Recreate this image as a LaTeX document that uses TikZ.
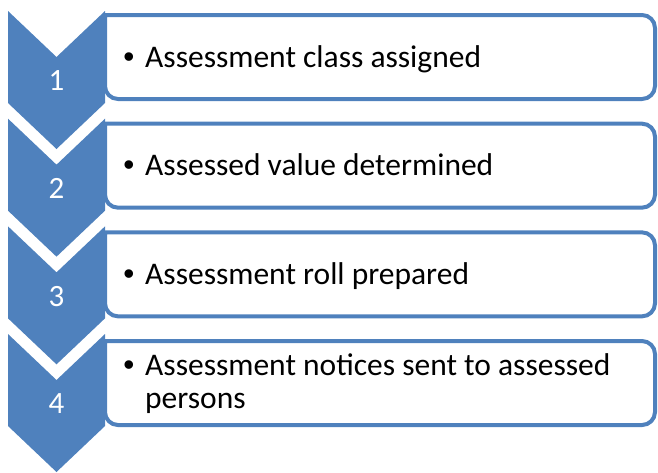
\documentclass[tikz,border=0pt]{standalone}
\usepackage{fontspec}
\setmainfont{Carlito}
\newfontfamily\bulfont{Liberation Sans}
\definecolor{acc}{HTML}{4F81BD}
\begin{document}
\begin{tikzpicture}[x=1pt,y=-1pt,
  chev/.style={fill=acc,draw=none},
  box/.style={draw=acc,line width=4pt},
  num/.style={text=white,font=\fontsize{31}{34}\selectfont,inner sep=0pt},
  itemtext/.style={font=\fontsize{31.5}{33}\selectfont,inner sep=0pt,anchor=base west,align=left},
  bul/.style={font=\bulfont\fontsize{31.5}{33}\selectfont,inner sep=0pt,anchor=base}]
\useasboundingbox (0,0) rectangle (658,472);
\foreach \k in {0,1,2,3}{
  \pgfmathsetmacro{\r}{15+108.67*\k}
  \pgfmathsetmacro{\rb}{\r+84}
  \draw[box] (105,\r) [rounded corners=13pt] -- (655,\r) -- (655,\rb) -- (105,\rb) [sharp corners] -- cycle;
  \pgfmathsetmacro{\t}{11+107.67*\k}
  \fill[chev] (8,\t) -- (56.5,\t+46) -- (105,\t) -- (105,\t+92) -- (56.5,\t+138) -- (8,\t+92) -- cycle;
}
\node[num] (n1) at (56.5,81) {1};
\node[num] (n2) at (56.5,188.7) {2};
\node[num] (n3) at (56.5,296.3) {3};
\node[num] (n4) at (56.5,404) {4};
\node[bul] (b1) at (129,67) {•};
\node[itemtext] (t1) at (145,67) {Assessment class assigned};
\node[bul] (b2) at (129,175.7) {•};
\node[itemtext] (t2) at (145,175.7) {Assessed value determined};
\node[bul] (b3) at (129,284.3) {•};
\node[itemtext] (t3) at (145,284.3) {Assessment roll prepared};
\node[bul] (b4) at (129,375) {•};
\node[itemtext] (t4) at (145,408) {Assessment notices sent to assessed\\persons};
\end{tikzpicture}
\end{document}
